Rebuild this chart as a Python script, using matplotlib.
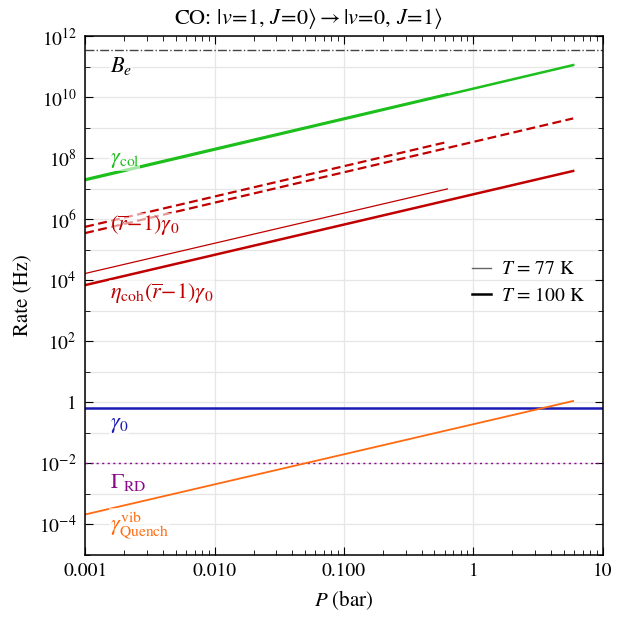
import numpy as np
import matplotlib
matplotlib.use("Agg")
import matplotlib.pyplot as plt
from matplotlib.ticker import LogLocator, FixedLocator, NullFormatter
from matplotlib.lines import Line2D

plt.rcParams['font.family'] = ['STIXGeneral', 'DejaVu Serif']
plt.rcParams['mathtext.fontset'] = 'stix'

# pressure ranges (bar)
P_77 = np.array([0.001, 0.63])
P_100 = np.array([0.001, 5.9])
P_all = np.array([0.001, 10.0])

# rates (Hz) at the end points
gcol_77 = np.array([2.1e7, 1.3e10])
gcol_100 = np.array([1.9e7, 1.12e11])
rg0_77 = np.array([5.6e5, 3.4e8])
rg0_100 = np.array([3.5e5, 2.0e9])
eta_77 = np.array([1.66e4, 9.8e6])
eta_100 = np.array([6.9e3, 3.8e7])
quench_100 = np.array([2.1e-4, 1.1])
gamma0 = 0.63
gamma_rd = 1e-2
B_e = 3.62e11

green = '#1cbf1c'
red = '#c00000'
blue = '#1a1ab4'
orange = '#ff6a10'
purple = '#8a0a8a'

fig = plt.figure(figsize=(6.17, 6.22), dpi=100)
ax = fig.add_axes([0.138, 0.108, 0.839, 0.834])
ax.set_xscale('log')
ax.set_yscale('log')

ax.plot(P_all, [B_e, B_e], color='#444444', lw=1.0, ls='-.')
ax.plot(P_all, [gamma_rd, gamma_rd], color=purple, lw=1.0, ls=(0, (1.5, 2.5)))
ax.plot(P_all, [gamma0, gamma0], color=blue, lw=1.8)

ax.plot(P_100, gcol_100, color=green, lw=1.8)
ax.plot(P_77, gcol_77, color=green, lw=1.0)
ax.plot(P_77, rg0_77, color=red, lw=1.6, ls=(0, (4, 2)))
ax.plot(P_100, rg0_100, color=red, lw=1.6, ls=(0, (4, 2)))
ax.plot(P_77, eta_77, color=red, lw=0.9)
ax.plot(P_100, eta_100, color=red, lw=1.8)
ax.plot(P_100, quench_100, color=orange, lw=1.3)

bb = dict(facecolor='white', edgecolor='none', alpha=0.6, pad=0.5)
fs = 16
xl = 0.00155
ax.text(xl, 1.05e11, r'$B_e$', color='black', fontsize=fs, va='center', bbox=bb)
ax.text(xl, 8.5e7, r'$\gamma_{\mathrm{col}}$', color=green, fontsize=fs, va='center', bbox=bb)
ax.text(xl, 5.9e5, r'$(\overline{r}\!-\!1)\gamma_0$', color=red, fontsize=fs, va='center', bbox=bb)
ax.text(xl, 3.7e3, r'$\eta_{\mathrm{coh}}(\overline{r}\!-\!1)\gamma_0$', color=red, fontsize=fs,
        va='center', bbox=bb)
ax.text(xl, 0.18, r'$\gamma_0$', color=blue, fontsize=fs, va='center', bbox=bb)
ax.text(xl, 2.4e-3, r'$\Gamma_{\mathrm{RD}}$', color=purple, fontsize=fs, va='center', bbox=bb)
ax.text(xl, 1.0e-4, r'$\gamma_{\mathrm{Quench}}^{\mathrm{vib}}$', color=orange, fontsize=fs,
        va='center', bbox=bb)

ax.set_xlim(0.001, 10)
ax.set_ylim(1e-5, 1e12)

ax.xaxis.set_major_locator(FixedLocator([0.001, 0.01, 0.1, 1, 10]))
ax.set_xticklabels(['0.001', '0.010', '0.100', '1', '10'])
ax.xaxis.set_minor_locator(LogLocator(base=10, subs=np.arange(2, 10), numticks=20))
ax.xaxis.set_minor_formatter(NullFormatter())

yt = [10.0 ** k for k in range(-4, 13, 2)]
ylabels = []
for k in range(-4, 13, 2):
    ylabels.append('1' if k == 0 else r'$10^{%d}$' % k)
ax.yaxis.set_major_locator(FixedLocator(yt))
ax.set_yticklabels(ylabels)
ax.yaxis.set_minor_locator(FixedLocator([10.0 ** k for k in range(-5, 13, 2)]))
ax.yaxis.set_minor_formatter(NullFormatter())

ax.tick_params(which='both', direction='in', top=True, right=True, labelsize=14, pad=6)
ax.tick_params(which='major', length=6, width=0.8)
ax.tick_params(which='minor', length=3.5, width=0.6)

for k in range(-5, 13):
    ax.axhline(10.0 ** k, color='#e6e6e6', lw=0.9, zorder=0)
for k in range(-3, 1):
    ax.axvline(10.0 ** k, color='#e6e6e6', lw=0.9, zorder=0)

for s in ax.spines.values():
    s.set_linewidth(1.1)

ax.set_xlabel(r'$P$ (bar)', fontsize=15, labelpad=6)
ax.set_ylabel('Rate (Hz)', fontsize=15, labelpad=4)
fig.text(0.5, 0.962, r'CO: $|v\!=\!1,\, J\!=\!0\rangle \rightarrow |v\!=\!0,\, J\!=\!1\rangle$',
         fontsize=16, ha='center', va='baseline')

handles = [Line2D([], [], color='#666666', lw=1.0), Line2D([], [], color='black', lw=1.8)]
ax.legend(handles, [r'$T$ = 77 K', r'$T$ = 100 K'], loc='center right', bbox_to_anchor=(1.0, 0.524),
          frameon=False, fontsize=14, handlelength=1.0, handletextpad=0.5, labelspacing=0.45)

fig.savefig('out.png', dpi=100)
